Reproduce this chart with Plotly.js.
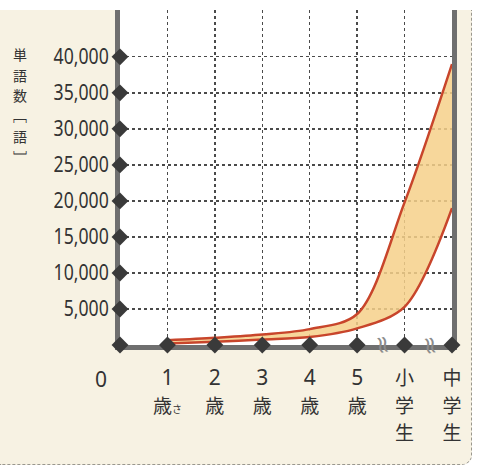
<!DOCTYPE html>
<html>
<head>
<meta charset="utf-8">
<script src="https://cdn.plot.ly/plotly-3.0.1.min.js"></script>
<style>
  html, body { margin: 0; padding: 0; background: #ffffff; }
  #wrap { position: absolute; left: 0; top: 10px; width: 471px; height: 454px;
          background: #f7f2e3; border-right: 1.5px dashed #9a978e; border-bottom: 1.5px dashed #9a978e;
          border-bottom-right-radius: 10px; overflow: hidden; }
  #chart { width: 471px; height: 454px; }
</style>
</head>
<body>
<div id="wrap"><div id="chart"></div></div>
<script>
// Categories (x positions 1..7) and labels
const xPos = [1, 2, 3, 4, 5, 6, 7];
const xNumLabels = ['1', '2', '3', '4', '5', '', ''];
const xCjkLabels = ['歳', '歳', '歳', '歳', '歳', '小<br>学<br>生', '中<br>学<br>生'];
// Vocabulary range (words): lower and upper boundaries of the band
const lowerWords = [200, 450, 750, 1100, 2300, 5300, 19000];
const upperWords = [650, 1000, 1450, 2200, 4300, 19800, 39000];
// Y ticks
const yTicks = [5000, 10000, 15000, 20000, 25000, 30000, 35000, 40000];
const yTickText = ['5,000', '10,000', '15,000', '20,000', '25,000', '30,000', '35,000', '40,000'];
// Vertical axis title, one character per row
const yTitleChars = ['単', '語', '数', '﹇', '語', '﹈'];
const breakPositions = [5.55, 6.55];

const numFont = '"Noto Sans", "Noto Sans CJK JP", sans-serif';
const cjkFont = '"Noto Sans CJK JP", sans-serif';

const xTickText = xPos.map((p, i) => {
  const num = xNumLabels[i];
  let cjk = '<span style="font-family:' + "'Noto Sans CJK JP'" + ';font-size:19px">' + xCjkLabels[i] + '</span>';
  if (i === 0) cjk += '<span style="font-family:' + "'Noto Sans CJK JP'" + ';font-size:10px">さ</span>';
  return num ? num + '<br>' + cjk : cjk;
});

const traces = [
  {
    x: xPos, y: lowerWords, type: 'scatter', mode: 'lines',
    line: { color: '#c8452b', width: 2.5, shape: 'spline', smoothing: 0.9 },
    hoverinfo: 'skip', showlegend: false
  },
  {
    x: xPos, y: upperWords, type: 'scatter', mode: 'lines', fill: 'tonexty',
    fillcolor: 'rgba(246,208,138,0.85)',
    line: { color: '#c8452b', width: 2.5, shape: 'spline', smoothing: 0.9 },
    hoverinfo: 'skip', showlegend: false
  },
  // diamond markers on the y axis
  {
    x: yTicks.map(() => 0).concat([0]), y: yTicks.concat([0]), type: 'scatter', mode: 'markers',
    marker: { symbol: 'diamond', size: 13, color: '#3a3a3a' }, cliponaxis: false,
    hoverinfo: 'skip', showlegend: false
  },
  // diamond markers on the x axis
  {
    x: xPos, y: xPos.map(() => 0), type: 'scatter', mode: 'markers',
    marker: { symbol: 'diamond', size: 13, color: '#3a3a3a' }, cliponaxis: false,
    hoverinfo: 'skip', showlegend: false
  }
];

// title rows: page y of first row 54px, row step 20.5px; plot area spans page y 10..345
const plotTopPx = 10, plotHeightPx = 335;
const titleAnnotations = yTitleChars.map((ch, i) => ({
  text: ch, xref: 'paper', yref: 'paper', x: -0.3,
  y: 1 - ((54 + i * 20.5) - plotTopPx) / plotHeightPx,
  xanchor: 'center', yanchor: 'middle', showarrow: false,
  font: { family: cjkFont, size: 14, color: '#333' }
}));

const annotations = titleAnnotations.concat([
  { text: '0', xref: 'x', yref: 'paper', x: 0, xshift: -19, y: -0.1, yanchor: 'middle',
    showarrow: false, font: { family: numFont, size: 21, color: '#333' } }
]).concat(breakPositions.map(b => ({
  text: '≈', xref: 'x', yref: 'y', x: b, y: 0, textangle: 80, showarrow: false,
  font: { family: 'DejaVu Sans', size: 24, color: '#8c8c8c' }
})));

const layout = {
  width: 471, height: 454,
  margin: { l: 120, r: 19, t: 0, b: 119 },
  paper_bgcolor: '#f7f2e3',
  plot_bgcolor: '#ffffff',
  showlegend: false,
  xaxis: {
    range: [0, 7], tickvals: xPos, ticktext: xTickText, layer: 'below traces',
    showline: true, linecolor: '#6f6f6f', linewidth: 5,
    showgrid: true, gridcolor: '#4a4a4a', griddash: 'dot', gridwidth: 1.3,
    zeroline: false, ticks: '', ticklabelstandoff: 10,
    tickfont: { family: numFont, size: 21, color: '#333' }
  },
  yaxis: {
    range: [0, 46500], tickvals: yTicks, ticktext: yTickText, layer: 'below traces',
    showline: true, mirror: true, linecolor: '#6f6f6f', linewidth: 5,
    showgrid: true, gridcolor: '#4a4a4a', griddash: 'dot', gridwidth: 1.3,
    zeroline: false, ticks: '', ticklabelstandoff: 2,
    tickfont: { family: numFont, size: 21, color: '#333' }
  },
  annotations: annotations
};

Plotly.newPlot('chart', traces, layout, { displayModeBar: false, staticPlot: true }).then(gd => {
  // condense the numeric tick labels horizontally (the original uses a narrow typeface)
  gd.querySelectorAll('.ytick text').forEach(t => {
    const w = t.getComputedTextLength();
    t.setAttribute('textLength', (w * 0.84).toFixed(1));
    t.setAttribute('lengthAdjust', 'spacingAndGlyphs');
  });
});
</script>
</body>
</html>
